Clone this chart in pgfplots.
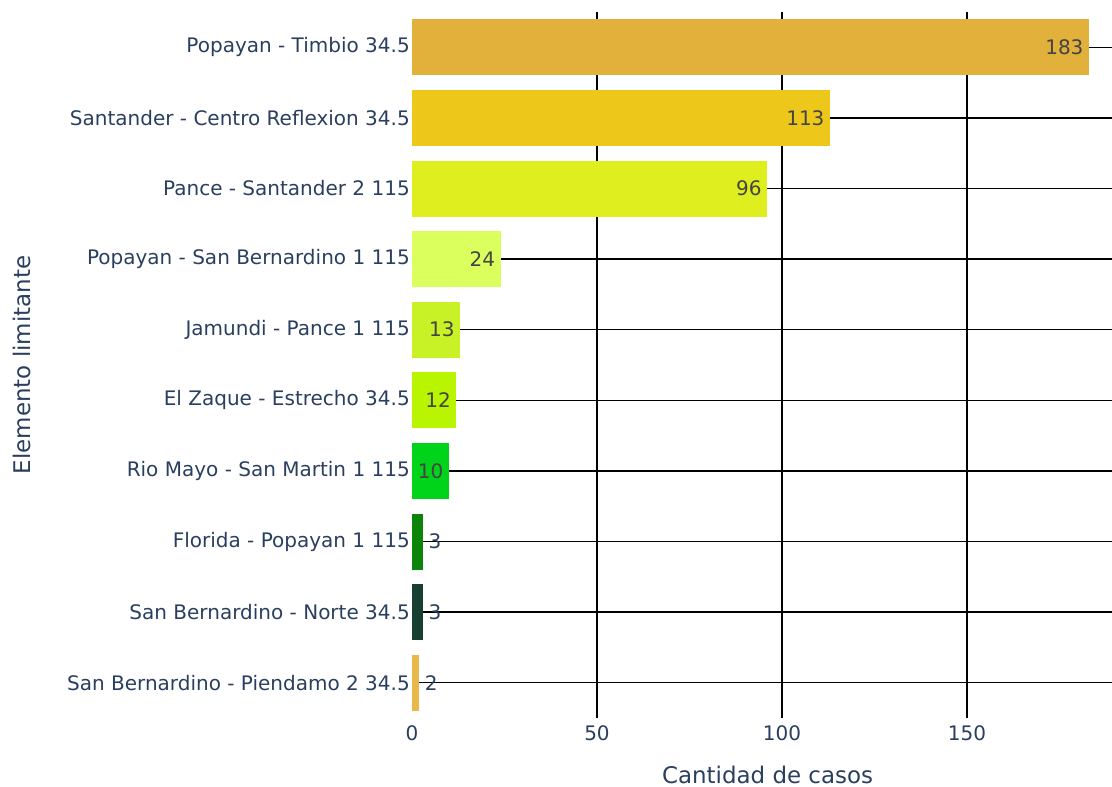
\documentclass[border=0pt]{standalone}
\usepackage{pgfplots}
\pgfplotsset{compat=1.18}
\usepackage{fontspec}
\setmainfont{DejaVu Sans}
\definecolor{txt}{HTML}{2A3F5F}
\definecolor{intxt}{HTML}{444444}
\definecolor{c1}{HTML}{E2B13C}
\definecolor{c2}{HTML}{EDC81A}
\definecolor{c3}{HTML}{DEEE1E}
\definecolor{c4}{HTML}{DBFF5C}
\definecolor{c5}{HTML}{C8F225}
\definecolor{c6}{HTML}{BAF500}
\definecolor{c7}{HTML}{00D41A}
\definecolor{c8}{HTML}{0A850A}
\definecolor{c9}{HTML}{173F32}
\definecolor{c10}{HTML}{E8B84A}
\pgfplotsset{
  inlab/.style={nodes near coords, every node near coord/.append style={anchor=east, text=intxt, inner sep=0pt, xshift=-4pt, font=\fontsize{15}{18}\selectfont}},
  outlab/.style={nodes near coords, every node near coord/.append style={anchor=west, text=txt, inner sep=0pt, xshift=4pt, font=\fontsize{15}{18}\selectfont}},
}
\begin{document}
\begin{tikzpicture}[x=1pt,y=1pt]
\useasboundingbox (-309,-51.75) rectangle (525,538.5);
\begin{axis}[
  at={(0,0)}, anchor=south west,
  scale only axis, width=525pt, height=529.5pt,
  xmin=0, xmax=189.2, ymin=-0.5, ymax=9.5, y dir=reverse,
  xbar, bar width=42pt,
  axis line style={draw=none}, major tick length=0pt, tick style={draw=none},
  xtick={50,100,150}, extra x ticks={0}, extra x tick style={grid=none},
  ytick={0,...,9},
  yticklabels={Popayan - Timbio 34.5, Santander - Centro Reflexion 34.5, Pance - Santander 2 115, Popayan - San Bernardino 1 115, Jamundi - Pance 1 115, El Zaque - Estrecho 34.5, Rio Mayo - San Martin 1 115, Florida - Popayan 1 115, San Bernardino - Norte 34.5, San Bernardino - Piendamo 2 34.5},
  xmajorgrids, ymajorgrids, grid style={black, line width=1pt},
  /pgf/number format/assume math mode=true,
  ticklabel style={font=\fontsize{15}{18}\selectfont, text=txt},
  yticklabel style={inner sep=0pt, xshift=-1.5pt},
  xticklabel style={inner sep=0pt, yshift=-5.5pt},
  xlabel={Cantidad de casos}, ylabel={Elemento limitante},
  label style={font=\fontsize{17.2}{20}\selectfont, text=txt},
  xlabel style={at={(axis description cs:0.508,-0.0807)}, anchor=center},
  ylabel style={at={(axis description cs:-0.5571,0.5)}, anchor=center},
  every axis plot/.append style={bar shift=0pt, draw=none},
]
\addplot[fill=c1, inlab] coordinates {(183,0)};
\addplot[fill=c2, inlab] coordinates {(113,1)};
\addplot[fill=c3, inlab] coordinates {(96,2)};
\addplot[fill=c4, inlab] coordinates {(24,3)};
\addplot[fill=c5, inlab] coordinates {(13,4)};
\addplot[fill=c6, inlab] coordinates {(12,5)};
\addplot[fill=c7, inlab] coordinates {(10,6)};
\addplot[fill=c8, outlab] coordinates {(3,7)};
\addplot[fill=c9, outlab] coordinates {(3,8)};
\addplot[fill=c10, outlab] coordinates {(2,9)};
\end{axis}
\end{tikzpicture}
\end{document}
